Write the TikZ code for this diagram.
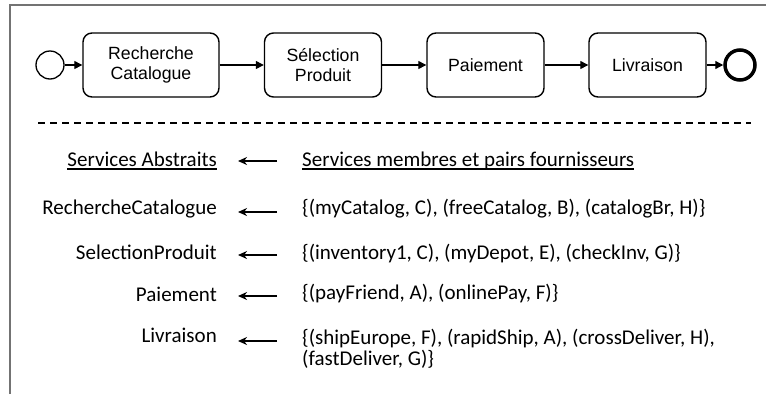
\documentclass[tikz,border=0pt]{standalone}
\usepackage{fontspec}
\setmainfont{Carlito}
\newfontfamily\arialf{Liberation Sans}
\usetikzlibrary{arrows.meta}
\newcommand\myul[1]{\setbox0\hbox{#1}\rlap{\rule[-3.2pt]{\wd0}{1.3pt}}\box0}
\begin{document}
\begin{tikzpicture}[x=1pt,y=-1pt,
 task/.style={draw, rounded corners=9pt, line width=1.4pt, minimum height=64pt, align=center, font=\arialf\fontsize{17.7}{20}\selectfont, inner sep=0pt},
 evstart/.style={draw, circle, line width=1.3pt, minimum size=28pt, inner sep=0pt},
 evend/.style={draw, circle, line width=3.5pt, minimum size=30pt, inner sep=0pt},
 flow/.style={-{Triangle[length=8pt,width=8pt]}, line width=1.3pt},
 lab/.style={font=\fontsize{21}{20}\selectfont, inner sep=0pt},
 maparrow/.style={-{Stealth[length=9pt,width=8pt]}, line width=2pt},
 frame/.style={draw=black!55, line width=1.5pt}
]
\useasboundingbox (0,0) rectangle (766,394);
% frame
\coordinate (fb) at (10,394);
\coordinate (fc) at (10,5);
\coordinate (fr) at (766,5);
\draw[frame] (fb) -- (fc) -- (fr);
% process
\node[evstart] (s) at (50,65) {};
\node[task, minimum width=136pt] (t1) at (151,65) {Recherche\\Catalogue};
\node[task, minimum width=117pt] (t2) at (323,65) {Sélection\\Produit};
\node[task, minimum width=117pt] (t3) at (485.5,65) {Paiement};
\node[task, minimum width=117pt] (t4) at (647.5,65) {Livraison};
\node[evend] (e) at (740,65) {};
\draw[flow] (s) -- (t1);
\draw[flow] (t1) -- (t2);
\draw[flow] (t2) -- (t3);
\draw[flow] (t3) -- (t4);
\draw[flow] (t4) -- (e);
% separator
\coordinate (d1) at (38,123);
\coordinate (d2) at (751,123);
\draw[line width=1.2pt, dash pattern=on 7pt off 5pt] (d1) -- (d2);
% table
\node[lab, anchor=base east] (l0) at (217,166.5) {\myul{Services Abstraits}};
\node[lab, anchor=base west] (r0) at (302,166.5) {\myul{Services membres et pairs fournisseurs}};
\node[lab, anchor=base east] (l1) at (217,214.5) {RechercheCatalogue};
\node[lab, anchor=base west] (r1) at (302,214.5) {\{(myCatalog, C), (freeCatalog, B), (catalogBr, H)\}};
\node[lab, anchor=base east] (l2) at (217,259.5) {SelectionProduit};
\node[lab, anchor=base west] (r2) at (302,259.5) {\{(inventory1, C), (myDepot, E), (checkInv, G)\}};
\node[lab, anchor=base east] (l3) at (217,301.5) {Paiement};
\node[lab, anchor=base west] (r3) at (302,299.5) {\{(payFriend, A), (onlinePay, F)\}};
\node[lab, anchor=base east] (l4) at (217,342.5) {Livraison};
\node[lab, anchor=base west] (r4) at (302,344.5) {\vtop{\baselineskip=20.5pt\lineskiplimit=-100pt\lineskip=0pt\hbox{\{(shipEurope, F), (rapidShip, A), (crossDeliver, H),}\hbox{(fastDeliver, G)\}}}};
% mapping arrows
\foreach \i/\y in {0/161,1/212,2/255,3/296,4/341}{
  \coordinate (a\i s) at (277,\y);
  \coordinate (a\i e) at (238,\y);
  \draw[maparrow] (a\i s) -- (a\i e);
}
\end{tikzpicture}
\end{document}
